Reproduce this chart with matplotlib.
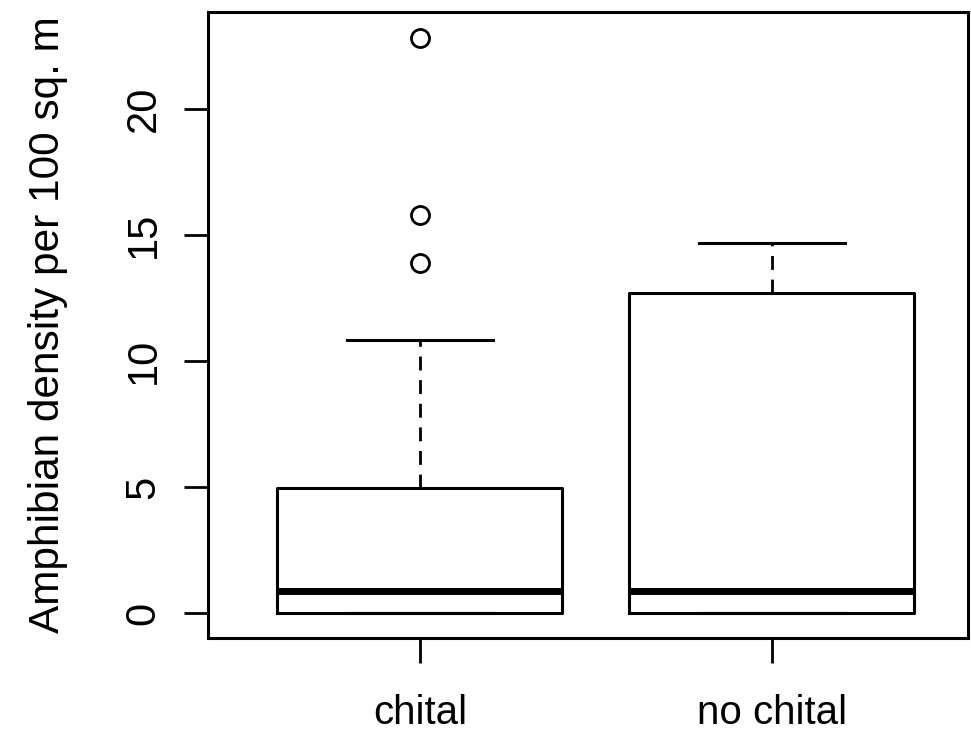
"""Boxplot of amphibian density at sites with and without chital."""

import matplotlib

matplotlib.use("Agg")
import matplotlib.pyplot as plt

plt.rcParams["font.family"] = ["Liberation Sans", "DejaVu Sans"]

# per-group summary statistics (amphibians per 100 sq. m)
groups = ["chital", "no chital"]
lower_whisker = [0.0, 0.0]
q1 = [0.0, 0.0]
median = [0.9, 0.9]
q3 = [4.95, 12.72]
upper_whisker = [10.85, 14.68]
outliers = [[13.9, 15.8, 22.8], []]
y_ticks = [0, 5, 10, 15, 20]

stats = []
for i, name in enumerate(groups):
    stats.append(
        {
            "label": name,
            "whislo": lower_whisker[i],
            "q1": q1[i],
            "med": median[i],
            "q3": q3[i],
            "whishi": upper_whisker[i],
            "fliers": outliers[i],
        }
    )

fig = plt.figure(figsize=(9.71, 7.40), dpi=100)
ax = fig.add_axes([208 / 971, 102 / 740, 760 / 971, 626 / 740])

ax.bxp(
    stats,
    positions=[1, 2],
    widths=0.81,
    showfliers=True,
    boxprops=dict(color="black", linewidth=2.2),
    medianprops=dict(color="black", linewidth=5.0, solid_capstyle="butt"),
    whiskerprops=dict(color="black", linewidth=2.0, linestyle=(0, (5, 3.5))),
    capprops=dict(color="black", linewidth=2.2),
    flierprops=dict(
        marker="o",
        markersize=13,
        markerfacecolor="none",
        markeredgecolor="black",
        markeredgewidth=2.0,
    ),
    capwidths=0.415,
)

ax.set_xlim(0.398, 2.557)
ax.set_ylim(-0.98, 23.85)

ax.set_yticks(y_ticks)
ax.set_yticklabels([str(t) for t in y_ticks], rotation=90, va="center")
ax.set_xticks([1, 2])
ax.set_xticklabels(groups)

ax.tick_params(axis="y", length=17, width=2.0, pad=15, labelsize=30)
ax.tick_params(axis="x", length=18, width=2.0, pad=22, labelsize=29)

for side in ax.spines.values():
    side.set_linewidth(2.2)

ax.set_ylabel("Amphibian density per 100 sq. m", fontsize=30.5, labelpad=40)

fig.savefig("out.png", dpi=100, facecolor="white")
